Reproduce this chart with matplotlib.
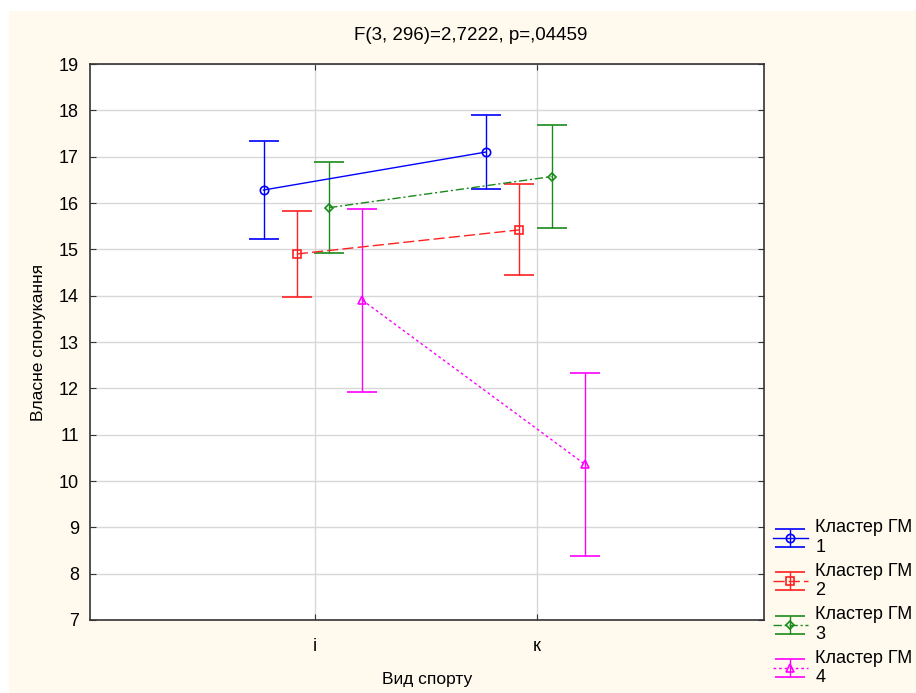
import matplotlib.pyplot as plt
from matplotlib.patches import Rectangle

plt.rcParams['font.family'] = ['Liberation Sans', 'DejaVu Sans']

# means and confidence half-widths per cluster, for each sport type
sports = ['і', 'к']
clusters = ['Кластер ГМ\n1', 'Кластер ГМ\n2', 'Кластер ГМ\n3', 'Кластер ГМ\n4']
means_1 = [16.28, 17.10]
err_1 = [1.05, 0.80]
means_2 = [14.90, 15.42]
err_2 = [0.93, 0.98]
means_3 = [15.90, 16.57]
err_3 = [0.98, 1.11]
means_4 = [13.90, 10.36]
err_4 = [1.97, 1.98]

means = [means_1, means_2, means_3, means_4]
errs = [err_1, err_2, err_3, err_4]
offsets = [-0.23, -0.08, 0.065, 0.215]
colors = ['#0000ff', '#ff2020', '#1a8a1a', '#ff00ff']
styles = ['-', (0, (8, 3)), (0, (6, 2, 1.5, 2)), (0, (2, 2))]
markers = ['o', 's', 'D', '^']
msizes = [6, 6, 4.5, 5.5]

fig = plt.figure(figsize=(9.16, 6.93), dpi=100, facecolor='white')
fig.patches.append(Rectangle((9 / 916, 0), 1, 1 - 11 / 693, transform=fig.transFigure,
                             facecolor='#fff9ee', edgecolor='none', zorder=-10))
ax = fig.add_axes([90 / 916, 1 - 620 / 693, 674 / 916, 556 / 693])
ax.set_facecolor('white')

for m, e, off, c, ls, mk, ms, lab in zip(means, errs, offsets, colors, styles, markers, msizes, clusters):
    xs = [i + off for i in range(len(sports))]
    ax.errorbar(xs, m, yerr=e, color=c, ls=ls, lw=1, marker=mk, ms=ms, mfc='none',
                mec=c, mew=1.2, capsize=11, capthick=1, elinewidth=1, label=lab)

ax.set_xlim(-1.01, 2.02)
ax.set_ylim(7, 19)
ax.set_xticks(range(len(sports)))
ax.set_xticklabels(sports)
ax.set_yticks(range(7, 20))
ax.grid(True, color='#d8d8d8', lw=1)
ax.set_axisbelow(True)
ax.tick_params(direction='in', length=4, top=True, right=True, labelsize=13,
               colors='#333333', labelcolor='black')
ax.tick_params(axis='y', pad=8)
ax.tick_params(axis='x', pad=13)
for s in ax.spines.values():
    s.set_color('#333333')
    s.set_linewidth(1.2)

# title sits centred over the whole figure, not the axes
fig.text(471 / 916, 1 - 35 / 693, 'F(3, 296)=2,7222, p=,04459', fontsize=13.5,
         ha='center', va='center')
ax.set_xlabel('Вид спорту', fontsize=12.5, labelpad=12)
ax.set_ylabel('Власне спонукання', fontsize=12.5, labelpad=9)

leg = ax.legend(loc='upper left', bbox_to_anchor=(757 / 916, 1 - 503 / 693),
                bbox_transform=fig.transFigure, frameon=False, fontsize=13,
                handlelength=1.9, handletextpad=0.42, labelspacing=0.38)

fig.savefig('out.png', dpi=100)
